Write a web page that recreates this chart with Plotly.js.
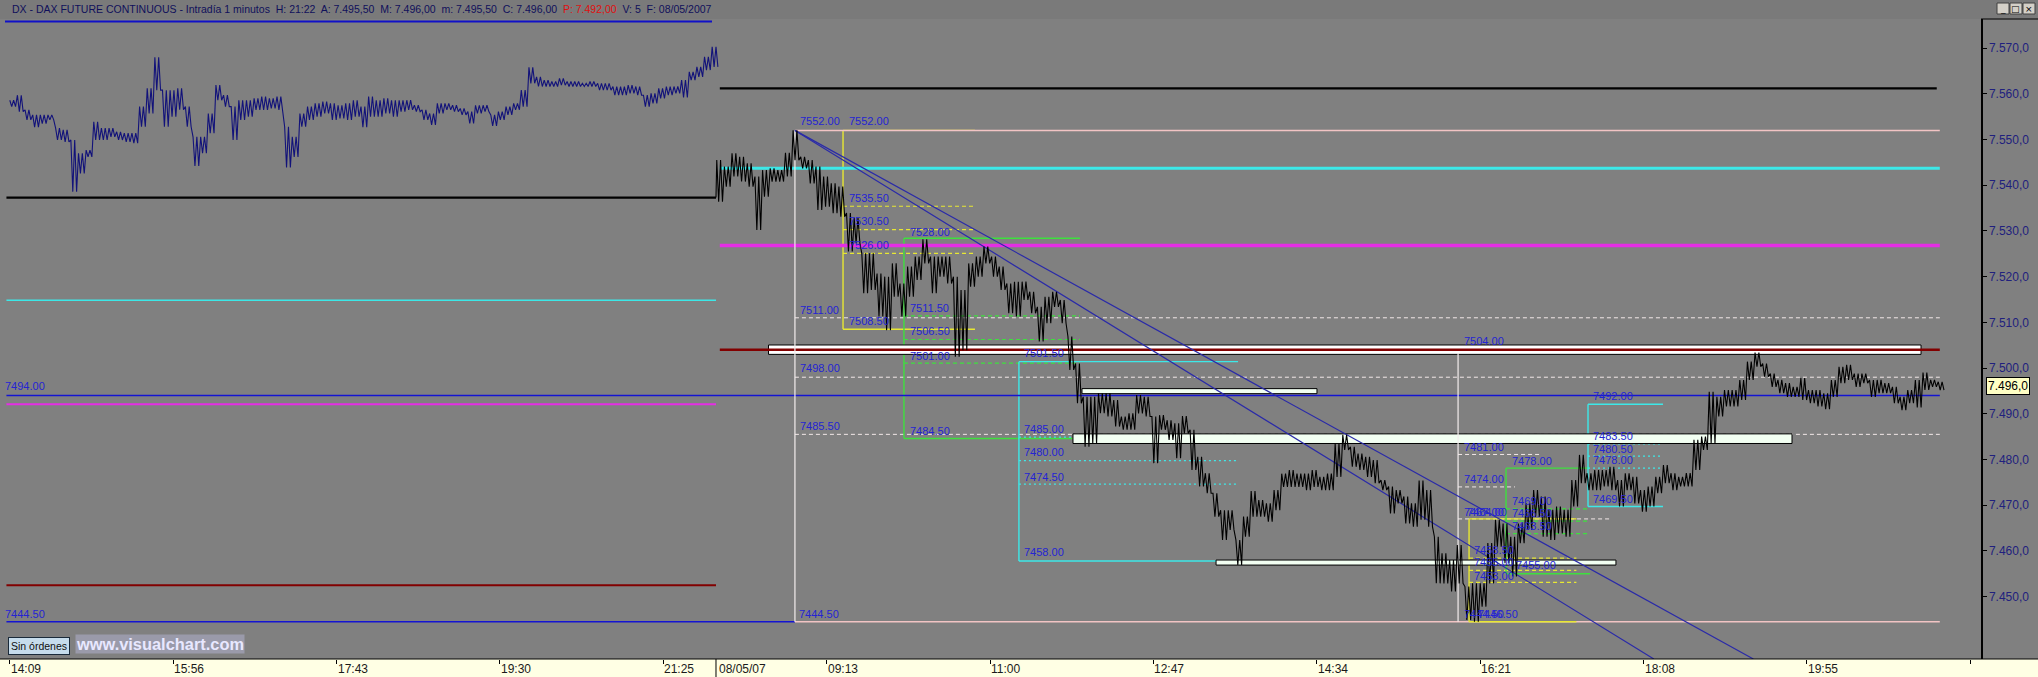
<!DOCTYPE html>
<html><head><meta charset="utf-8">
<script src="https://cdn.plot.ly/plotly-3.0.1.min.js"></script>
<style>html,body{margin:0;padding:0;background:#808080;overflow:hidden}</style>
</head><body><div id="chart" style="width:2038px;height:677px"></div>
<script>
// ================= DATA =================
// x axis is the 1-minute bar index (bar 0 = 14:09 of the previous session)
const xTickBars = [0,107,214,321,428,535,642,749,856,963,1070,1177,1284];
const xTickText = ['14:09','15:56','17:43','19:30','21:25','09:13','11:00','12:47','14:34','16:21','18:08','19:55',''];
const dayBreakBar = 462.5;
const dayBreakText = '08/05/07';
const yTickVals = [7450,7460,7470,7480,7490,7500,7510,7520,7530,7540,7550,7560,7570];
const lastPrice = 7496;

// blue overlay series (previous session), high/low of each 5-bar block from bar 0
const blueStart = 0, blueStep = 5;
const blueHigh = [7558.6,7559.7,7556.5,7555.4,7555.4,7555.4,7552.5,7552.1,7549.9,7547.0,
 7547.7,7553.9,7552.5,7552.5,7551.7,7551.4,7551.4,7557.2,7561.2,7568.0,
 7560.8,7560.8,7561.2,7557.2,7550.6,7550.6,7555.7,7561.9,7559.7,7557.2,
 7558.6,7558.6,7559.0,7559.4,7559.0,7559.4,7552.8,7550.6,7555.7,7557.2,
 7557.9,7558.3,7557.9,7557.5,7557.9,7558.6,7557.2,7559.4,7558.6,7559.0,
 7558.6,7558.6,7558.6,7557.5,7556.5,7555.7,7557.9,7557.9,7557.5,7556.8,
 7556.1,7557.5,7557.5,7555.4,7556.1,7557.2,7557.9,7560.8,7565.8,7563.7,
 7563.0,7562.7,7563.4,7562.7,7562.7,7562.3,7562.7,7562.3,7562.3,7561.6,
 7561.6,7561.9,7561.6,7559.7,7560.1,7561.2,7561.6,7561.6,7563.0,7564.8,
 7565.9,7568.1,7570.3];
const blueLow = [7557.2,7556.1,7554.3,7552.7,7553.5,7554.3,7549.9,7549.5,7538.6,7542.6,
 7546.2,7549.9,7549.9,7550.6,7549.9,7549.5,7549.2,7552.8,7555.7,7560.8,
 7552.8,7555.0,7556.5,7552.8,7544.2,7547.0,7551.4,7558.6,7557.2,7549.9,
 7554.3,7555.0,7556.5,7556.5,7556.8,7556.5,7543.9,7546.2,7552.8,7554.3,
 7555.0,7555.7,7554.3,7554.6,7554.3,7555.0,7552.7,7555.0,7555.0,7555.7,
 7555.0,7556.1,7556.5,7556.1,7554.3,7553.2,7555.7,7556.5,7556.1,7555.4,
 7553.5,7555.7,7556.1,7553.0,7554.3,7555.4,7556.5,7557.2,7562.3,7561.6,
 7561.6,7561.6,7561.9,7561.6,7561.6,7561.6,7561.6,7560.8,7560.8,7559.7,
 7559.7,7560.1,7559.7,7557.2,7557.9,7559.0,7559.7,7560.1,7559.2,7563.0,
 7563.7,7565.2,7565.9];

// black DAX future series (08/05/07), high/low of each 5-bar block from bar 463
const blackStart = 463, blackStep = 5;
const blackHigh = [7545.5,7544.1,7547.0,7546.2,7544.8,7541.9,7543.3,7543.7,7543.3,7547.1,
 7552.0,7546.2,7545.5,7544.1,7541.9,7540.4,7539.7,7533.9,7532.8,7525.1,
 7525.1,7520.7,7520.0,7522.9,7518.5,7522.2,7524.4,7528.2,7524.4,7524.4,
 7524.4,7520.0,7517.1,7522.9,7524.4,7526.6,7524.4,7522.2,7518.5,7518.9,
 7518.9,7516.7,7513.4,7515.6,7516.7,7514.9,7506.9,7501.0,7493.7,7493.7,
 7494.5,7494.5,7493.0,
 7489.4,7490.1,7494.1,7493.7,7489.4,7489.7,7488.6,7487.9,7489.5,7486.5,
 7480.6,7477.0,7472.6,7468.9,7468.9,7462.4,7467.5,7473.1,7471.1,7470.4,
 7473.3,7476.9,7477.7,7476.9,7476.9,7477.7,7476.2,7476.9,7483.5,7485.4,
 7482.8,7481.3,7480.6,7479.9,7475.5,7474.1,7473.3,7471.9,7470.4,7475.4,
 7473.3,7463.1,7459.5,7458.0,7461.3,7452.2,7452.9,7452.9,7461.7,7466.8,
 7466.0,7463.1,
 7466.0,7470.4,7473.3,7471.9,7469.0,7469.7,7469.0,7475.5,7481.0,7477.0,
 7477.7,7477.7,7478.4,7475.5,7477.0,7476.2,7473.3,7474.1,7476.2,7478.8,
 7477.0,7476.2,7477.0,7484.3,7485.0,7494.8,7493.7,7495.2,7495.2,7497.4,
 7501.4,7503.4,7501.0,7498.8,7497.4,7496.7,7495.9,7497.8,7495.2,7495.2,
 7494.5,7497.4,7500.3,7500.7,7498.8,7498.8,7497.4,7497.4,7496.7,7495.9,
 7493.7,7495.2,7497.4,7499.0,7497.4,7497.0];
const blackLow = [7536.4,7539.7,7541.9,7540.8,7539.7,7530.2,7537.5,7540.8,7540.8,7541.9,
 7545.5,7543.7,7540.4,7534.6,7535.3,7533.9,7533.1,7525.5,7527.3,7516.4,
 7517.1,7511.3,7508.3,7515.6,7511.3,7515.6,7519.3,7522.9,7516.4,7520.0,
 7518.5,7502.5,7503.9,7517.8,7520.0,7522.9,7520.0,7517.1,7512.0,7511.3,
 7514.9,7512.0,7505.8,7509.8,7513.4,7509.8,7499.6,7492.3,7482.8,7483.5,
 7490.1,7489.4,7487.2,
 7486.5,7486.5,7490.1,7489.4,7479.2,7486.5,7484.3,7480.3,7485.7,7477.7,
 7474.1,7472.6,7467.5,7462.4,7464.6,7456.9,7463.1,7467.5,7467.5,7466.4,
 7468.9,7474.0,7474.0,7474.0,7473.3,7474.0,7473.3,7473.3,7476.2,7482.1,
 7478.4,7477.7,7476.2,7474.8,7473.3,7468.2,7470.4,7466.0,7465.3,7466.8,
 7465.3,7452.9,7452.9,7451.1,7452.9,7444.9,7444.5,7447.8,7452.9,7460.9,
 7457.3,7454.4,
 7461.7,7464.6,7467.5,7463.1,7462.4,7463.8,7463.1,7469.7,7474.8,7473.3,
 7473.3,7474.1,7473.3,7469.7,7473.3,7470.4,7468.6,7469.7,7472.6,7474.8,
 7473.3,7474.1,7474.1,7477.7,7482.1,7483.5,7489.4,7491.6,7491.6,7493.0,
 7497.4,7500.3,7498.1,7495.9,7494.5,7493.7,7493.7,7493.0,7492.3,7491.6,
 7491.0,7493.7,7496.7,7497.4,7495.9,7496.7,7493.7,7494.5,7494.5,7492.3,
 7490.8,7492.3,7491.4,7495.2,7495.9,7495.2];
// flat black value carried through the previous session
const blackPrevFlat = 7537.3, blackPrevFrom = -2.2;

// horizontal reference levels
const prevSessionBars = [-2.2, 462.5];
const prevLevels = {cyan: 7514.85, magenta: 7492.1, darkred: 7452.5};
const todayBars = [465, 1264];
const todayLevels = {black: 7561.2, cyan: 7543.7, magenta: 7526.8, darkred: 7504.0};
const pivotLevel = 7494;
const dayHigh = 7552, dayHighBar = 514.2;
const dayLow = 7444.5;
const dashedLevels = [7511, 7498, 7485.5];
const shortDashed = [[7481.1, 948.5, 1002.2],[7474.0, 948.5, 985.8],[7467.0, 948.5, 1049.3]];
const verticalMarks = [[514.2, 7444.5, 7552],[948.5, 7444.5, 7503.3]];
// zones: [top, bottom, fromBar, toBar]
const mainZone = [7505.05, 7503.0, 496.9, 1251.7];
const zones = [[7495.5, 7494.4, 702.2, 856.1],[7485.6, 7483.5, 696.3, 1167.2],[7458.0, 7456.9, 790.0, 1051.9]];
// trend lines from the day high
const trendFrom = [514.2, 7552];
const trendTo = [[1076.7, 7436.35],[1141.9, 7436.35]];
// retracement sets
const fibYellow = [
  {hi: 7552, lo: 7508.5, bar0: 545.7, bar1: 632.1, levels: [7535.4, 7530.3, 7525.1]},
  {hi: 7467, lo: 7444.5, bar0: 955.7, bar1: 1026.0, levels: [7458.4, 7455.75, 7453.1]}];
const fibGreen = [
  {hi: 7528.4, lo: 7484.6, bar0: 585.6, bar1: 700.9, levels: [7511.4, 7506.25, 7501.1]},
  {hi: 7478.1, lo: 7455.0, bar0: 979.9, bar1: 1034.9, levels: [7469.2, 7466.5, 7463.8]}];
const fibCyan = [
  {hi: 7501.4, lo: 7457.8, bar0: 660.9, bar1: 804.4, levels: [7484.9, 7479.75, 7474.6]},
  {hi: 7492.1, lo: 7469.7, bar0: 1033.6, bar1: 1082.7, levels: [7483.4, 7480.75, 7478.1]}];

// price labels drawn on the chart
const labelText = ['7552.00','7552.00','7535.50','7530.50','7526.00','7528.00','7511.00','7508.50','7511.50','7506.50',
 '7501.00','7498.00','7501.50','7485.50','7484.50','7485.00','7480.00','7474.50','7458.00','7444.50',
 '7494.00','7444.50','7504.00','7481.00','7474.00','7467.00','7464.00','7478.00','7469.00','7466.50',
 '7463.50','7458.50','7455.00','7455.00','7453.00','7444.50','7446.50','7492.00','7483.50','7480.50',
 '7478.00','7469.50'];
const labelBar = [516.9,549.0,549.0,549.0,549.0,588.9,516.9,549.0,588.9,588.9,
 588.9,516.9,663.6,516.9,588.9,663.6,663.6,663.6,663.6,516.2,
 -3.8,-3.8,951.5,951.5,951.5,951.5,953.5,983.0,983.0,983.0,
 983.0,958.5,958.5,985.6,958.5,951.5,961.0,1036.0,1036.0,1036.0,
 1036.0,1036.0];
const labelPrice = [7554.05,7554.05,7537.1,7532.2,7526.9,7529.8,7512.7,7510.3,7513.1,7508.1,
 7502.7,7500.1,7503.2,7487.3,7486.3,7486.7,7481.7,7476.2,7459.7,7446.3,
 7496.1,7446.3,7505.9,7482.8,7475.7,7468.6,7468.6,7479.7,7470.9,7468.4,
 7465.5,7460.2,7457.5,7456.9,7454.6,7446.1,7446.3,7493.9,7485.1,7482.4,
 7479.9,7471.3];

// ================= BUILD =================
const C = {bg:'#808080', navy:'#12127a', pink:'#f2c4c4', cyan:'#3ce8e8', magenta:'#e42ee4',
  darkred:'#820000', blue:'#1414d2', yellow:'#e8e832', green:'#3ee03e', white:'#f2e8e8',
  label:'#2424d4', trend:'#2a2aa8'};
const FONT = 'Liberation Sans, Arial, sans-serif';

// each 5-bar block is drawn as bar strokes spanning its high/low range
function bars(start, step, hi, lo){
  const x=[], y=[];
  for(let i=0;i<hi.length;i++){
    const b = start + i*step;
    const q = step/4;
    x.push(b, b+q, b+2*q, b+3*q);
    y.push(hi[i], lo[i], hi[i], lo[i]);
  }
  return {x, y};
}
const blueB = bars(blueStart, blueStep, blueHigh, blueLow);
const blackB = bars(blackStart, blackStep, blackHigh, blackLow);
blackB.x.unshift(blackPrevFrom, dayBreakBar);
blackB.y.unshift(blackPrevFlat, blackPrevFlat);

const traces = [
  {type:'scatter', mode:'lines', x: blueB.x, y: blueB.y, line:{color:C.navy, width:1.1}, hoverinfo:'skip'},
  {type:'scatter', mode:'lines', x: blackB.x.slice(0,2), y: blackB.y.slice(0,2), line:{color:'#000', width:2.2}, hoverinfo:'skip'},
  {type:'scatter', mode:'lines', x: blackB.x.slice(1), y: blackB.y.slice(1), line:{color:'#000', width:1.1}, hoverinfo:'skip'}
];

const shapes = [];
function hline(p, b0, b1, color, width, dash){
  shapes.push({type:'line', xref:'x', yref:'y', x0:b0, x1:b1, y0:p, y1:p, layer:'below',
    line:{color, width, dash: dash || 'solid'}});
}
function vline(b, p0, p1, color, width, dash){
  shapes.push({type:'line', xref:'x', yref:'y', x0:b, x1:b, y0:p0, y1:p1, layer:'below',
    line:{color, width, dash: dash || 'solid'}});
}
function box(z, fill){
  shapes.push({type:'rect', xref:'x', yref:'y', x0:z[2], x1:z[3], y0:z[1], y1:z[0], layer:'below',
    fillcolor: fill, line:{color:'#000', width:1}});
}

hline(prevLevels.cyan, prevSessionBars[0], prevSessionBars[1], C.cyan, 1.6);
hline(prevLevels.magenta, prevSessionBars[0], prevSessionBars[1], C.magenta, 2);
hline(prevLevels.darkred, prevSessionBars[0], prevSessionBars[1], C.darkred, 2);
hline(dayLow, prevSessionBars[0], dayHighBar, C.blue, 1.4);
hline(dayLow, dayHighBar, todayBars[1], C.pink, 1.4);
dashedLevels.forEach(p => hline(p, dayHighBar, todayBars[1], C.white, 1, '4px,3px'));
shortDashed.forEach(s => hline(s[0], s[1], s[2], C.white, 1, '4px,3px'));
function fib(set, color, dash){
  set.forEach(f => {
    vline(f.bar0, f.lo, f.hi, color, 1.4);
    hline(f.hi, f.bar0, f.bar1, color, 1.4);
    hline(f.lo, f.bar0, f.bar1, color, 1.4);
    f.levels.forEach(p => hline(p, f.bar0, f.bar1, color, 1.2, dash));
  });
}
fib(fibYellow, C.yellow, '4px,3px');
fib(fibGreen, C.green, '4px,3px');
fib(fibCyan, C.cyan, '2px,3px');
hline(dayHigh, dayHighBar, todayBars[1], C.pink, 1.5);
hline(todayLevels.black, todayBars[0], todayBars[1]-2, '#000', 2.4);
hline(todayLevels.cyan, todayBars[0], todayBars[1], C.cyan, 3);
hline(todayLevels.magenta, todayBars[0], todayBars[1], C.magenta, 3.6);
box(mainZone, '#ffffff');
hline(todayLevels.darkred, todayBars[0], todayBars[1], C.darkred, 2.6);
zones.forEach(z => box(z, '#f2fff2'));
hline(pivotLevel, prevSessionBars[0], todayBars[1], C.blue, 1.5);
verticalMarks.forEach(v => vline(v[0], v[1], v[2], '#f4eeee', 1.2));
trendTo.forEach(t => shapes.push({type:'line', xref:'x', yref:'y', x0:trendFrom[0], y0:trendFrom[1],
  x1:t[0], y1:t[1], layer:'below', line:{color:C.trend, width:1.2}}));

// ---- frame decorations (paper coords) ----
const PW = 1981, PH = 640;
const px = v => v / PW;
const py = v => (659 - v) / PH;
shapes.push({type:'rect', xref:'paper', yref:'paper', x0:0, x1:px(2038), y0:1, y1:py(0), fillcolor:'#7a7a7a', line:{width:0}, layer:'below'});
shapes.push({type:'line', xref:'paper', yref:'paper', x0:px(5), x1:px(712), y0:py(21.5), y1:py(21.5), line:{color:'#1010c8', width:2}});
[[1997,2009],[2010,2022],[2023,2035]].forEach(b => shapes.push({type:'rect', xref:'paper', yref:'paper',
  x0:px(b[0]), x1:px(b[1]), y0:py(14), y1:py(3), fillcolor:'#d4d0c8', line:{color:'#404040', width:1}}));
shapes.push({type:'line', xref:'paper', yref:'paper', x0:1, x1:px(2038), y0:1, y1:1, line:{color:'#000', width:1}});
shapes.push({type:'rect', xref:'paper', yref:'paper', x0:0, x1:px(2038), y0:py(677), y1:0, fillcolor:'#ffffe4', line:{width:0}, layer:'below'});
shapes.push({type:'line', xref:'paper', yref:'paper', x0:0, x1:px(2038), y0:0, y1:0, line:{color:'#000', width:1}});
shapes.push({type:'line', xref:'x', yref:'paper', x0:dayBreakBar, x1:dayBreakBar, y0:0, y1:py(677), line:{color:'#000', width:1}});

const annotations = [];
labelText.forEach((t, i) => annotations.push({x: labelBar[i], y: labelPrice[i], xref:'x', yref:'y', text:t,
  showarrow:false, xanchor:'left', yanchor:'middle', borderpad:0,
  font:{family:FONT, size:11, color:C.label}}));
xTickBars.forEach((b, i) => { if (xTickText[i]) annotations.push({x:b, y:0, xref:'x', yref:'paper', text:xTickText[i],
  showarrow:false, xanchor:'left', yanchor:'top', xshift:0, yshift:-2, borderpad:0,
  font:{family:FONT, size:12, color:'#1a1a1a'}}); });
annotations.push({x:dayBreakBar, y:0, xref:'x', yref:'paper', text:dayBreakText, showarrow:false, xanchor:'left', yanchor:'top',
  xshift:2, yshift:-2, borderpad:0, font:{family:FONT, size:12, color:'#1a1a1a'}});
annotations.push({x:px(1986), y:lastPrice, xref:'paper', yref:'y', text:'7.496,0', showarrow:false, xanchor:'left', yanchor:'middle',
  bgcolor:'#ffffc4', bordercolor:'#000', borderwidth:1, borderpad:1, font:{family:FONT, size:12, color:'#000'}});
annotations.push({x:px(10), y:py(9), xref:'paper', yref:'paper', showarrow:false, xanchor:'left', yanchor:'middle',
  text:'DX - DAX FUTURE CONTINUOUS - Intradía 1 minutos  H: 21:22  A: 7.495,50  M: 7.496,00  m: 7.495,50  C: 7.496,00  <span style="color:#e01010">P: 7.492,00</span>  V: 5  F: 08/05/2007',
  font:{family:FONT, size:10.5, color:'#10105a'}});
[['_',2003],['□',2016],['×',2029]].forEach(g => annotations.push({x:px(g[1]), y:py(8.5), xref:'paper', yref:'paper', text:g[0],
  showarrow:false, xanchor:'center', yanchor:'middle', font:{family:'DejaVu Sans', size:9, color:'#000'}}));
annotations.push({x:px(8), y:py(645.5), xref:'paper', yref:'paper', text:'Sin órdenes', showarrow:false, xanchor:'left', yanchor:'middle',
  bgcolor:'#c6dcec', bordercolor:'#1a2a3a', borderwidth:1, borderpad:2, font:{family:FONT, size:10.5, color:'#101010'}});
annotations.push({x:px(75), y:py(643.5), xref:'paper', yref:'paper', text:'<b>www.visualchart.com</b>', showarrow:false, xanchor:'left', yanchor:'middle',
  bgcolor:'#9a9aaa', borderpad:0, font:{family:FONT, size:16.4, color:'#e8e8ff'}});

const layout = {
  width:2038, height:677,
  margin:{l:0, r:57, t:19, b:18, pad:0},
  paper_bgcolor:C.bg, plot_bgcolor:C.bg,
  separators:',.',
  showlegend:false,
  xaxis:{range:[-6.42, 1290.98], tickmode:'array', tickvals:xTickBars, ticktext:xTickBars.map(()=>''),
    ticks:'outside', ticklen:4, tickcolor:'#000', showticklabels:false, showgrid:false, zeroline:false,
    showline:false, automargin:false, fixedrange:true},
  yaxis:{side:'right', range:[7436.35, 7576.37], tickmode:'array', tickvals:yTickVals, tickformat:',.1f',
    ticks:'outside', ticklen:4, tickcolor:'#000', showgrid:false, zeroline:false, showline:true, linecolor:'#000', linewidth:1.5,
    tickfont:{family:FONT, size:12, color:'#20207e'}, automargin:false, fixedrange:true},
  shapes, annotations
};
Plotly.newPlot('chart', traces, layout, {staticPlot:true, displayModeBar:false});
</script></body></html>
